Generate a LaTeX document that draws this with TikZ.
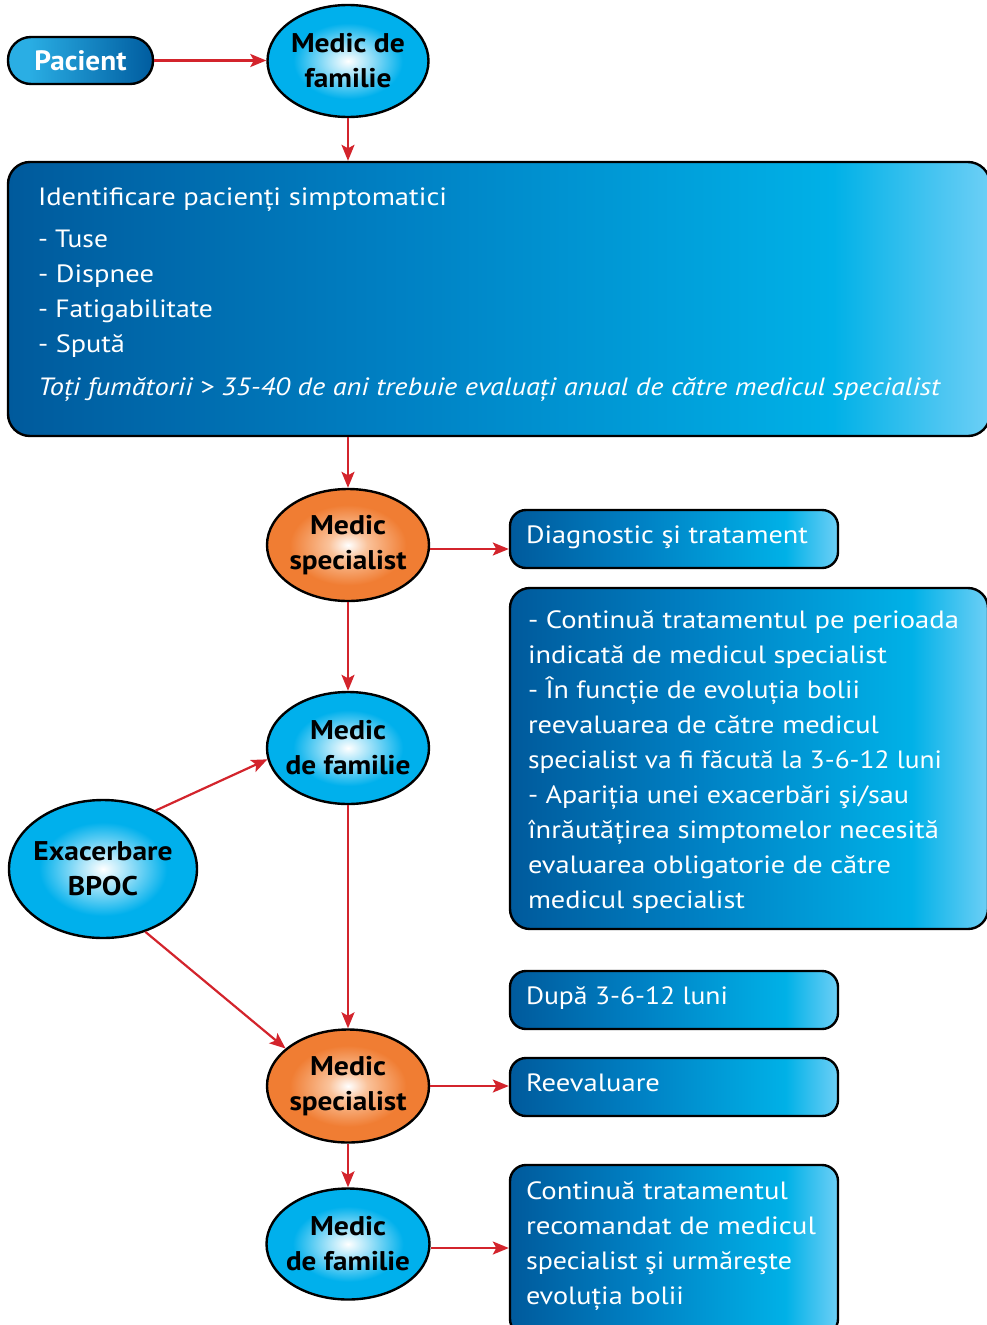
\documentclass[tikz,border=0pt]{standalone}
\usepackage{fontspec}
\setmainfont{PT Sans}
\usetikzlibrary{arrows.meta,shapes.geometric}
\definecolor{arrowred}{HTML}{D3242C}
\definecolor{bxA}{HTML}{005A9C}
\definecolor{bxM}{HTML}{0081C4}
\definecolor{bxC}{HTML}{00B1E7}
\definecolor{bxD}{HTML}{6DCFF6}
\definecolor{pcL}{HTML}{2AAEE4}
\definecolor{pcR}{HTML}{005C9F}
\definecolor{blE}{HTML}{00B0EC}
\definecolor{blL}{HTML}{A8E4F9}
\definecolor{orE}{HTML}{F07D33}
\definecolor{orL}{HTML}{FAC29A}
\pgfdeclarehorizontalshading{boxshade}{100bp}{color(0bp)=(bxA); color(25bp)=(bxA); color(45bp)=(bxM); color(67bp)=(bxC); color(75bp)=(bxD); color(100bp)=(bxD)}
\pgfdeclarehorizontalshading{pacshade}{100bp}{color(0bp)=(pcL); color(25bp)=(pcL); color(32bp)=(pcL); color(75bp)=(pcR); color(100bp)=(pcR)}
\pgfdeclareradialshading{blueball}{\pgfpoint{0bp}{0bp}}{color(0bp)=(white); color(6bp)=(blL); color(17bp)=(blE); color(25bp)=(blE); color(50bp)=(blE)}
\pgfdeclareradialshading{orangeball}{\pgfpoint{0bp}{0bp}}{color(0bp)=(white); color(6bp)=(orL); color(18bp)=(orE); color(25bp)=(orE); color(50bp)=(orE)}
\newcommand\fw[2]{\resizebox{#1}{\height}{#2}}
\newcommand\bx[4]{\begin{minipage}[c][#1][t]{#2}\vspace*{#3}\raggedright #4\end{minipage}}
\begin{document}
\begin{tikzpicture}[x=1pt,y=-1pt,
  ell/.style={ellipse, draw=black, line width=2.4pt, inner xsep=-40pt, inner ysep=-35pt,
    align=center, text=black, font=\bfseries\fontsize{27}{35}\selectfont, shade},
  blueell/.style={ell, shading=blueball},
  orangeell/.style={ell, shading=orangeball},
  bbox/.style={rectangle, rounded corners=16pt, draw=black, line width=2.4pt, shade, shading=boxshade,
    text=white, inner ysep=0pt, inner xsep=16pt, font=\fontsize{25}{35}\selectfont},
  arr/.style={draw=arrowred, line width=2.2pt, -{Stealth[length=16pt,width=13pt,inset=3.5pt]}}]
\useasboundingbox (0,0) rectangle (987,1325);

% nodes
\node[rectangle, rounded corners=23pt, draw=black, line width=2.4pt, shade, shading=pacshade,
  minimum width=145pt, minimum height=47pt, inner sep=0pt, text=white,
  font=\bfseries\fontsize{28}{35}\selectfont] (pac) at (80.5,60.5) {\fw{92pt}{Pacient}};
\node[blueell, minimum width=161pt, minimum height=112pt] (mdf1) at (348,61)
  {\fw{114pt}{Medic de}\\\fw{87pt}{familie}};
\node[bbox, rounded corners=22pt, inner xsep=30pt] (id) at (499,299) {\bx{274pt}{922pt}{18.5pt}{%
\strut\fw{409pt}{Identificare pacienți simptomatici}\\[7pt]
\strut\fw{70pt}{- Tuse}\\
\strut\fw{116pt}{- Dispnee}\\
\strut\fw{175pt}{- Fatigabilitate}\\
\strut\fw{87pt}{- Spută}\\[8pt]
\strut\fw{902pt}{\itshape Toți fumătorii > 35-40 de ani trebuie evaluați anual de către medicul specialist}}};
\node[orangeell, minimum width=162pt, minimum height=112pt] (spec1) at (348,545)
  {\fw{76pt}{Medic}\\\fw{117pt}{specialist}};
\node[bbox] (diag) at (674,539) {\bx{58pt}{296pt}{9pt}{\strut\fw{282pt}{Diagnostic şi tratament}}};
\node[bbox, rounded corners=20pt, inner xsep=18pt] (rb) at (749,758.5) {\bx{341pt}{442pt}{15.5pt}{%
\strut\fw{431pt}{- Continuă tratamentul pe perioada}\\
\strut\fw{359pt}{indicată de medicul specialist}\\
\strut\fw{332pt}{- În funcție de evoluția bolii}\\
\strut\fw{351pt}{reevaluarea de către medicul}\\
\strut\fw{414pt}{specialist va fi făcută la 3-6-12 luni}\\
\strut\fw{381pt}{- Apariția unei exacerbări şi/sau}\\
\strut\fw{411pt}{înrăutățirea simptomelor necesită}\\
\strut\fw{363pt}{evaluarea obligatorie de către}\\
\strut\fw{217pt}{medicul specialist}}};
\node[blueell, minimum width=162pt, minimum height=112pt] (mdf2) at (348,748)
  {\fw{76pt}{Medic}\\\fw{125pt}{de familie}};
\node[blueell, minimum width=188pt, minimum height=138pt] (exac) at (103,869)
  {\fw{139pt}{Exacerbare}\\\fw{70pt}{BPOC}\hspace*{0pt}};
\node[bbox] (dupa) at (674,1000) {\bx{58pt}{296pt}{9pt}{\strut\fw{202pt}{După 3-6-12 luni}}};
\node[orangeell, minimum width=162pt, minimum height=113pt] (spec2) at (348,1086)
  {\fw{76pt}{Medic}\\\fw{117pt}{specialist}};
\node[bbox] (reev) at (674,1087) {\bx{58pt}{296pt}{9pt}{\strut\fw{134pt}{Reevaluare}}};
\node[blueell, minimum width=163pt, minimum height=111pt] (mdf3) at (348,1244)
  {\fw{76pt}{Medic}\\\fw{124pt}{de familie}};
\node[bbox] (fin) at (674,1250) {\bx{170pt}{296pt}{9.5pt}{%
\strut\fw{262pt}{Continuă tratamentul}\\
\strut\fw{290pt}{recomandat de medicul}\\
\strut\fw{266pt}{specialist şi urmăreşte}\\
\strut\fw{158pt}{evoluția bolii}}};

% connectors
\draw[arr] (pac.east) -- (pac.east -| mdf1.west);
\draw[arr] (mdf1.south) -- (mdf1.south |- id.north);
\draw[arr] (spec1.north |- id.south) -- (spec1.north);
\draw[arr] ([yshift=-4pt]spec1.east) -- ([yshift=-4pt]spec1.east -| diag.west);
\draw[arr] (spec1.south) -- (mdf2.north);
\draw[arr] (exac.48.6) -- (mdf2.188.6);
\draw[arr] (exac.-56.3) -- (spec2.149.3);
\draw[arr] (mdf2.south) -- (spec2.north);
\draw[arr] (spec2.east) -- (spec2.east -| reev.west);
\draw[arr] (spec2.south) -- (mdf3.north);
\draw[arr] ([yshift=-4pt]mdf3.east) -- ([yshift=-4pt]mdf3.east -| fin.west);
\end{tikzpicture}
\end{document}
